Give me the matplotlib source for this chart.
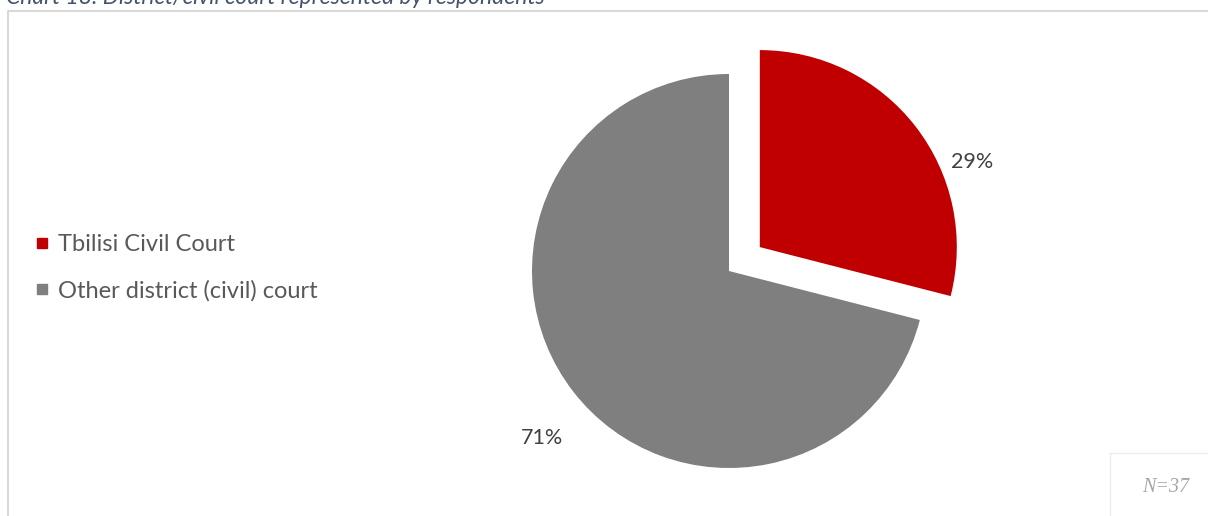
import matplotlib.pyplot as plt
from matplotlib.lines import Line2D

courts = ['Tbilisi Civil Court', 'Other district (civil) court']
shares = [29, 71]
colors = ['#c00000', '#7f7f7f']
n_total = 37

W, H = 1208, 516
fig = plt.figure(figsize=(W / 100, H / 100), dpi=100)
ax = fig.add_axes([0, 0, 1, 1])

plt.rcParams['font.family'] = ['Lato', 'DejaVu Sans']

# pie, first slice starts at 12 o'clock and runs clockwise, pulled out
# (explode offset is in data units here since the axes are in pixels)
cx, cy, r = 729, H - 271, 197
ax.pie(shares, colors=colors, startangle=90, counterclock=False,
       center=(cx, cy), radius=r, explode=[39, 0],
       wedgeprops=dict(linewidth=0), frame=True)
ax.set_xlim(0, W)
ax.set_ylim(0, H)
ax.set_aspect('equal')
ax.axis('off')

# percentage labels
label_pos = [(972, H - 162), (542, H - 438)]
for v, (x, y) in zip(shares, label_pos):
    ax.text(x, y, f'{v}%', ha='center', va='center', fontsize=15.5, color='#404040')

# legend
handles = [Line2D([], [], marker='s', linestyle='none', markersize=6.5,
                  markerfacecolor=c, markeredgecolor=c) for c in colors]
ax.legend(handles, courts, loc='upper left', bbox_to_anchor=(36 / W, 1 - 234 / H),
          frameon=False, fontsize=17, labelcolor='#595959',
          handlelength=0.5, handletextpad=0.45, labelspacing=1.05,
          borderaxespad=0, borderpad=0)

# outer frame (only top and left edges visible)
ax.plot([8, 8, W], [0, H - 11, H - 11], color='#d9d9d9', lw=1.5, solid_capstyle='butt')

# title, partly clipped by the top edge
ax.text(6, H - 4, 'Chart 18. District/civil court represented by respondents',
        ha='left', va='baseline', fontsize=16.5, style='italic', color='#44546a')

# sample size box
ax.plot([1110, 1110, W], [0, H - 453, H - 453], color='#ececec', lw=1)
ax.text(1166, H - 488, f'N={n_total}', ha='center', va='center', fontsize=14.5,
        style='italic', color='#a6a6a6', family='Liberation Serif')

fig.savefig('out.png', dpi=100)
